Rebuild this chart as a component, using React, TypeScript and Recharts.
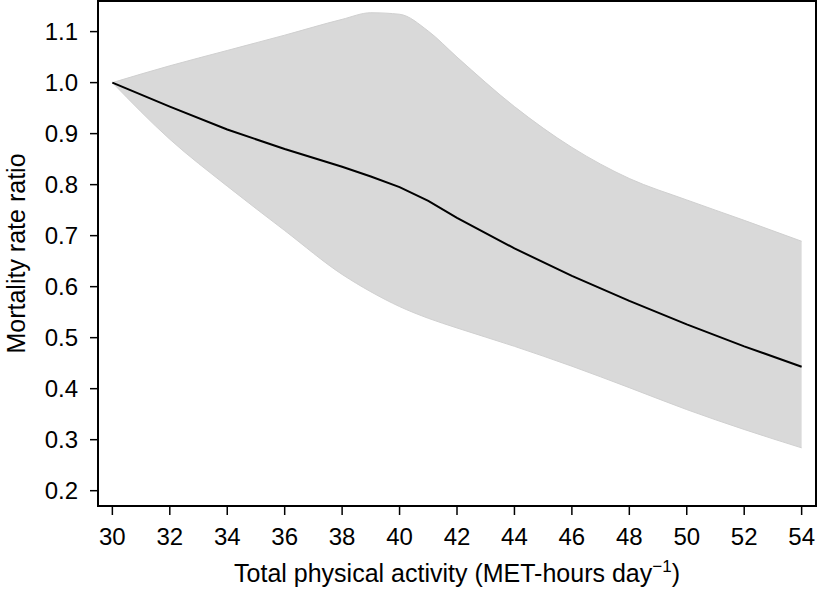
import {
  ComposedChart,
  Area,
  Line,
  XAxis,
  YAxis,
  ReferenceArea,
} from 'recharts'

const activity = [30, 32, 34, 36, 38, 39, 40, 41, 42, 44, 46, 48, 50, 52, 54]
const rateRatio = [1.0, 0.953, 0.908, 0.87, 0.835, 0.816, 0.795, 0.768, 0.735, 0.675, 0.621, 0.572, 0.526, 0.483, 0.443]
const upperCI = [1.0, 1.033, 1.063, 1.093, 1.124, 1.137, 1.134, 1.101, 1.05, 0.953, 0.873, 0.812, 0.77, 0.73, 0.689]
const lowerCI = [1.0, 0.889, 0.797, 0.71, 0.624, 0.59, 0.561, 0.538, 0.519, 0.483, 0.444, 0.402, 0.359, 0.32, 0.284]

const xTicks = [30, 32, 34, 36, 38, 40, 42, 44, 46, 48, 50, 52, 54]
const yTicks = [0.2, 0.3, 0.4, 0.5, 0.6, 0.7, 0.8, 0.9, 1.0, 1.1]

const X_DOMAIN: [number, number] = [29.5, 54.5]
const Y_DOMAIN: [number, number] = [0.17, 1.16]

const FONT = '"Liberation Sans", Arial, Helvetica, sans-serif'

const data = activity.map((x, i) => ({
  x,
  estimate: rateRatio[i],
  band: [lowerCI[i], upperCI[i]],
}))

function XLabel(props: any) {
  const vb = props.viewBox || {}
  const cx = vb.x + vb.width / 2
  return (
    <text x={cx} y={582} textAnchor="middle" fontSize={25} fontFamily={FONT} fill="#000">
      <tspan>Total physical activity (MET-hours day</tspan>
      <tspan dy={-10} fontSize={17}>−1</tspan>
      <tspan dy={10}>)</tspan>
    </text>
  )
}

function YLabel(props: any) {
  const vb = props.viewBox || {}
  const cy = vb.y + vb.height / 2
  return (
    <text
      x={25}
      y={cy}
      transform={`rotate(-90, 25, ${cy})`}
      textAnchor="middle"
      fontSize={25}
      fontFamily={FONT}
      fill="#000"
    >
      Mortality rate ratio
    </text>
  )
}

export default function App() {
  return (
    <div style={{ position: 'absolute', left: 0, top: 0, background: '#fff' }}>
      <ComposedChart
        width={819}
        height={593}
        data={data}
        margin={{ top: 1, right: 3, left: 8, bottom: 7 }}
      >
        <XAxis
          dataKey="x"
          type="number"
          domain={X_DOMAIN}
          ticks={xTicks}
          allowDataOverflow
          height={80}
          axisLine={false}
          tickLine={{ stroke: '#000', strokeWidth: 1.5 }}
          tickSize={9}
          tickMargin={13}
          tick={{ fill: '#000', fontSize: 24, fontFamily: FONT }}
          label={<XLabel />}
        />
        <YAxis
          type="number"
          domain={Y_DOMAIN}
          ticks={yTicks}
          allowDataOverflow
          width={90}
          axisLine={false}
          tickLine={{ stroke: '#000', strokeWidth: 1.5 }}
          tickSize={8}
          tickMargin={12}
          tickFormatter={(v: number) => v.toFixed(1)}
          tick={{ fill: '#000', fontSize: 24, fontFamily: FONT }}
          label={<YLabel />}
        />
        <Area
          dataKey="band"
          type="monotone"
          fill="#d9d9d9"
          fillOpacity={1}
          stroke="#d0d0d0"
          strokeWidth={1}
          isAnimationActive={false}
          activeDot={false}
        />
        <Line
          dataKey="estimate"
          type="linear"
          stroke="#000"
          strokeWidth={2}
          dot={false}
          activeDot={false}
          isAnimationActive={false}
        />
        <ReferenceArea
          x1={X_DOMAIN[0]}
          x2={X_DOMAIN[1]}
          y1={Y_DOMAIN[0]}
          y2={Y_DOMAIN[1]}
          fill="none"
          stroke="#000"
          strokeWidth={2}
        />
      </ComposedChart>
    </div>
  )
}
